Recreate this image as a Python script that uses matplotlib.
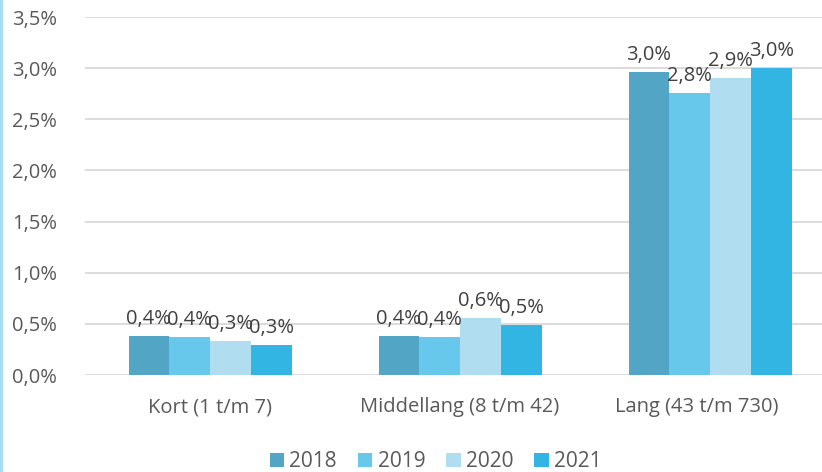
import matplotlib.pyplot as plt
import matplotlib.transforms as mtransforms
from matplotlib.lines import Line2D
import numpy as np

categories = ["Kort (1 t/m 7)", "Middellang (8 t/m 42)", "Lang (43 t/m 730)"]
years = ["2018", "2019", "2020", "2021"]
values = {
    "2018": [0.38, 0.38, 2.96],
    "2019": [0.37, 0.37, 2.76],
    "2020": [0.33, 0.56, 2.90],
    "2021": [0.29, 0.49, 3.00],
}
labels = {
    "2018": ["0,4%", "0,4%", "3,0%"],
    "2019": ["0,4%", "0,4%", "2,8%"],
    "2020": ["0,3%", "0,6%", "2,9%"],
    "2021": ["0,3%", "0,5%", "3,0%"],
}
colors = ["#52A5C4", "#67C8EC", "#B1DDF1", "#33B5E4"]
yticks = [0.0, 0.5, 1.0, 1.5, 2.0, 2.5, 3.0, 3.5]

plt.rcParams['font.family'] = ['Open Sans', 'DejaVu Sans']
text_color = "#595959"

fig = plt.figure(figsize=(8.22, 4.72), dpi=100)
ax = fig.add_axes([85 / 822, 1 - 375 / 472, 1 - 85 / 822, (375 - 17) / 472])

x = np.arange(len(categories))
width = 0.163
for i, year in enumerate(years):
    pos = x + (i - 1.5) * width
    ax.bar(pos, values[year], width, color=colors[i], label=year, zorder=3)
    for px, v, lab in zip(pos, values[year], labels[year]):
        ax.annotate(lab, (px, v), xytext=(0, 5), textcoords="offset points",
                    ha="center", va="bottom", fontsize=14.5, color="#404040", zorder=4)

ax.set_xlim(-0.5, -0.5 + (822 - 85) / 250)
ax.set_ylim(0, 3.5)
ax.set_yticks(yticks)
ax.set_yticklabels([f"{t:.1f}%".replace(".", ",") for t in yticks], fontsize=14.5, color=text_color)
ax.set_xticks(x)
ax.set_xticklabels(categories, fontsize=14.5, color=text_color)
ax.tick_params(axis="both", length=0)
ax.tick_params(axis="y", pad=20)
ax.tick_params(axis="x", pad=16)
ax.grid(axis="y", color="#D9D9D9", linewidth=1.3, zorder=0)
for s in ax.spines.values():
    s.set_visible(False)

# last category label sits a bit left in the original
lab = ax.get_xticklabels()[-1]
lab.set_transform(lab.get_transform() + mtransforms.ScaledTranslation(-13 / 100, 0, fig.dpi_scale_trans))

leg = fig.legend(loc="lower center", bbox_to_anchor=(0.53, -0.04), ncol=4, frameon=False,
                 fontsize=15, handlelength=0.7, handleheight=0.7, handletextpad=0.25,
                 columnspacing=1.0)
for t in leg.get_texts():
    t.set_color(text_color)

fig.add_artist(Line2D([0.001, 0.001], [0, 1], color="#A6DDF0", linewidth=2.5, transform=fig.transFigure))

fig.savefig("out.png", dpi=100)
